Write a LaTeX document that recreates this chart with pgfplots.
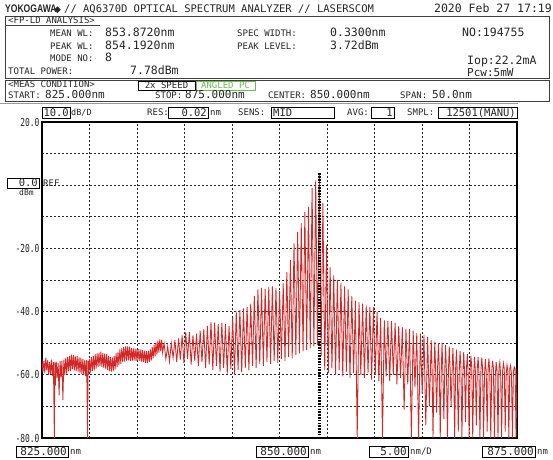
\documentclass[border=0pt]{standalone}
\usepackage{pgfplots}
\pgfplotsset{compat=1.18}
\usepackage{fontspec}
\setmainfont{DejaVu Sans Mono}
\newfontfamily\brand{Liberation Sans}
\newfontfamily\sym{DejaVu Sans}
\definecolor{trace}{RGB}{210,40,40}
\definecolor{apc}{RGB}{110,185,80}
\newcommand{\fs}[1]{\fontsize{#1bp}{#1bp}\selectfont}

\begin{document}
\begin{tikzpicture}
\useasboundingbox (0,0) rectangle (553bp,460bp);
\begin{axis}[
    at={(42bp,22bp)}, anchor=south west,
    scale only axis, width=475bp, height=316bp,
    xmin=825, xmax=875, ymin=-80, ymax=20,
    xtick={825,830,...,875}, ytick={-80,-70,...,20},
    xticklabels={},
    yticklabels={-80.0,,-60.0,,-40.0,,-20.0,,,,20.0},
    yticklabel style={font=\fs{11}, xscale=0.72, text=black!85},
    major tick length=0pt,
    grid=major,
    major grid style={black!85, line width=0.7bp, dash pattern=on 2bp off 2bp},
    axis line style={black, line width=1.3bp},
]
% measured trace (dBm vs nm)
\addplot[trace, line width=0.85bp] coordinates {
(825.0,-55.0) (825.1,-59.2) (825.2,-55.6) (825.3,-59.5) (825.4,-54.6) (825.5,-58.6)
(825.6,-55.4) (825.7,-60.0) (825.8,-55.9) (825.9,-59.8) (826.0,-55.2) (826.1,-60.3)
(826.2,-56.0) (826.3,-80) (826.35,-56.1) (826.4,-63.5) (826.5,-55.8) (826.6,-61.0)
(826.7,-56.3) (826.8,-66.5) (826.9,-55.6) (827.0,-60.8) (827.1,-55.5) (827.2,-68.0)
(827.3,-55.2) (827.4,-60.2) (827.5,-54.6) (827.6,-59.6) (827.7,-54.3) (827.8,-58.9)
(827.9,-54.0) (828.0,-58.8) (828.1,-53.6) (828.2,-58.3) (828.3,-53.7) (828.4,-58.6)
(828.5,-54.0) (828.6,-58.8) (828.7,-54.1) (828.8,-59.0) (828.9,-54.5) (829.0,-59.4)
(829.1,-54.6) (829.2,-59.8) (829.3,-55.0) (829.4,-60.1) (829.5,-55.3) (829.6,-60.4)
(829.7,-55.4) (829.8,-80) (829.85,-55.6) (829.9,-60.0) (830.0,-55.0) (830.1,-59.3)
(830.2,-54.4) (830.3,-58.8) (830.4,-54.0) (830.5,-58.6) (830.6,-53.5) (830.7,-58.0)
(830.8,-53.2) (830.9,-57.6) (831.0,-53.0) (831.1,-57.3) (831.2,-52.7) (831.3,-57.5)
(831.4,-53.1) (831.5,-57.8) (831.6,-53.3) (831.7,-58.0) (831.8,-53.4) (831.9,-58.4)
(832.0,-54.0) (832.1,-58.9) (832.2,-54.3) (832.3,-59.0) (832.4,-54.5) (832.5,-58.8)
(832.6,-54.0) (832.7,-58.3) (832.8,-53.2) (832.9,-57.6) (833.0,-52.8) (833.1,-57.0)
(833.2,-52.0) (833.3,-56.5) (833.4,-51.6) (833.5,-56.0) (833.6,-51.2) (833.7,-55.8)
(833.8,-51.0) (833.9,-55.5) (834.0,-51.0) (834.1,-55.4) (834.2,-51.1) (834.3,-55.6)
(834.4,-51.5) (834.5,-55.7) (834.6,-51.6) (834.7,-55.5) (834.8,-51.7) (834.9,-55.6)
(835.0,-51.8) (835.1,-55.4) (835.2,-51.9) (835.3,-55.7) (835.4,-52.0) (835.5,-55.9)
(835.6,-52.2) (835.7,-56.0) (835.8,-52.4) (835.9,-56.2) (836.0,-52.5) (836.1,-56.3)
(836.2,-52.4) (836.3,-56.0) (836.4,-52.0) (836.5,-55.5) (836.6,-51.2) (836.7,-54.8)
(836.8,-50.5) (836.9,-54.2) (837.0,-49.8) (837.1,-53.6) (837.2,-49.2) (837.3,-53.0)
(837.4,-48.8) (837.5,-52.6) (837.6,-48.9) (837.7,-53.0)
(837.85,-50.0) (838.04,-55.0) (838.23,-51.0) (838.42,-55.8) (838.61,-50.0) (838.80,-54.6)
(838.99,-49.0) (839.18,-56.0) (839.37,-48.5) (839.56,-55.2) (839.75,-47.5) (839.94,-56.4)
(840.13,-46.5) (840.32,-55.0) (840.51,-46.5) (840.70,-56.8) (840.89,-47.5) (841.08,-55.6)
(841.27,-47.0) (841.46,-57.2) (841.65,-46.0) (841.84,-56.0) (842.03,-45.5) (842.22,-57.8)
(842.41,-44.5) (842.60,-56.8) (842.79,-43.3) (842.98,-58.4) (843.17,-43.5) (843.36,-57.2)
(843.55,-44.0) (843.74,-59.0) (843.93,-43.5) (844.12,-57.8) (844.31,-44.0) (844.50,-59.6)
(844.69,-44.5) (844.88,-58.2) (845.07,-42.0) (845.26,-60.0) (845.45,-40.0) (845.64,-58.4)
(845.83,-39.5) (846.02,-59.2) (846.21,-39.0) (846.40,-57.8) (846.59,-38.5) (846.78,-58.6)
(846.97,-37.5) (847.16,-57.2) (847.35,-35.0) (847.54,-57.8) (847.73,-33.0) (847.92,-56.6)
(848.11,-32.5) (848.30,-57.2) (848.49,-32.8) (848.68,-56.0) (848.87,-32.2) (849.06,-56.6)
(849.25,-32.0) (849.44,-55.6) (849.63,-32.5) (849.82,-56.2) (850.01,-33.5) (850.20,-55.0)
(850.39,-31.0) (850.58,-55.6) (850.77,-27.5) (850.96,-54.4) (851.15,-23.6) (851.34,-54.8)
(851.53,-18.3) (851.72,-53.8) (851.91,-14.8) (852.10,-53.2) (852.29,-12.0) (852.48,-52.6)
(852.67,-8.5) (852.86,-52.2) (853.05,-6.9) (853.24,-51.6) (853.43,-0.9) (853.62,-51.0)
(853.81,1.5) (854.00,-50.6) (854.19,3.72) (854.38,-54.0)
(854.57,-5.6) (854.76,-58.5) (854.95,-19.0) (855.14,-59.5) (855.33,-26.0) (855.52,-58.0)
(855.71,-28.5) (855.90,-60.0) (856.09,-30.0) (856.28,-58.5) (856.47,-31.0) (856.66,-60.5)
(856.85,-32.0) (857.04,-59.0) (857.23,-33.0) (857.42,-61.0) (857.61,-35.0) (857.80,-59.5)
(857.99,-36.5) (858.18,-80) (858.37,-37.0) (858.56,-60.0) (858.75,-37.5) (858.94,-61.0)
(859.13,-38.0) (859.32,-59.5) (859.51,-38.5) (859.70,-61.5) (859.89,-38.5) (860.08,-60.0)
(860.27,-40.0) (860.46,-62.0) (860.65,-42.0) (860.84,-80) (861.03,-42.7) (861.22,-60.5)
(861.41,-43.0) (861.60,-62.0) (861.79,-43.0) (861.98,-60.0) (862.17,-43.5) (862.36,-63.0)
(862.55,-44.5) (862.74,-61.0) (862.93,-45.0) (863.12,-71.0) (863.31,-45.5) (863.50,-63.0)
(863.69,-45.5) (863.88,-80) (864.07,-46.0) (864.26,-64.0) (864.45,-46.8) (864.64,-80)
(864.83,-47.0) (865.02,-66.0) (865.21,-47.4) (865.40,-76.0) (865.59,-48.0) (865.78,-70.0)
(865.97,-49.0) (866.06,-58) (866.16,-80) (866.26,-59)
(866.35,-49.6) (866.44,-59) (866.54,-72) (866.64,-58)
(866.73,-50.0) (866.82,-58) (866.92,-80) (867.02,-60)
(867.11,-50.0) (867.20,-59) (867.30,-74) (867.40,-58)
(867.49,-50.6) (867.58,-60) (867.68,-80) (867.78,-59)
(867.87,-51.0) (867.96,-58) (868.06,-70) (868.16,-60)
(868.25,-51.5) (868.34,-59) (868.44,-80) (868.54,-58)
(868.63,-52.0) (868.72,-60) (868.82,-78) (868.92,-59)
(869.01,-52.5) (869.10,-58) (869.20,-80) (869.30,-60)
(869.39,-52.8) (869.48,-59) (869.58,-75) (869.68,-58)
(869.77,-53.5) (869.86,-60) (869.96,-80) (870.06,-59)
(870.15,-54.0) (870.24,-58) (870.34,-80) (870.44,-60)
(870.53,-54.3) (870.62,-59) (870.72,-76) (870.82,-58)
(870.91,-54.4) (871.00,-60) (871.10,-80) (871.20,-59)
(871.29,-54.5) (871.38,-58) (871.48,-80) (871.58,-60)
(871.67,-55.0) (871.76,-59) (871.86,-78) (871.96,-58)
(872.05,-54.8) (872.14,-60) (872.24,-80) (872.34,-59)
(872.43,-55.5) (872.52,-58) (872.62,-80) (872.72,-60)
(872.81,-56.0) (872.90,-59) (873.00,-80) (873.10,-58)
(873.19,-56.0) (873.28,-60) (873.38,-80) (873.48,-59)
(873.57,-56.3) (873.66,-58) (873.76,-78) (873.86,-60)
(873.95,-56.8) (874.04,-59) (874.14,-80) (874.24,-58)
(874.33,-57.0) (874.42,-60) (874.52,-80) (874.62,-59)
(874.71,-57.5) (874.80,-58) (874.90,-80) (875.00,-58)
};
% peak marker
\addplot[black, line width=2.4bp, dash pattern=on 1.6bp off 1.2bp] coordinates {(854.192,3.72) (854.192,-80)};
\end{axis}

\begin{scope}[x=1bp, y=-1bp, yshift=460bp, every node/.style={inner sep=0pt, text=black!85}]
% title row
\node[anchor=base west, font=\brand\bfseries\fs{11}, xscale=0.78] at (5,13) {YOKOGAWA};
\node[anchor=base west, font=\sym\fs{9}] at (54,13) {◆};
\node[anchor=base west, font=\fs{10.5}] at (64,13) {// AQ6370D OPTICAL SPECTRUM ANALYZER // LASERSCOM};
\node[anchor=base east, font=\fs{11.5}] at (552,13) {2020 Feb 27 17:19};
% analysis box
\draw[black!75, line width=0.9bp] (5,16) rectangle (549,78);
\node[anchor=base west, font=\fs{9}] at (8,24) {<FP-LD ANALYSIS>};
\draw[black!75, line width=0.7bp] (5,25.5) -- (100,25.5);
\node[anchor=base west, font=\fs{9}] at (50,37) {MEAN WL:};
\node[anchor=base west, font=\fs{11.5}] at (105,37) {853.8720nm};
\node[anchor=base west, font=\fs{9}] at (237,37) {SPEC WIDTH:};
\node[anchor=base west, font=\fs{11.5}] at (330,37) {0.3300nm};
\node[anchor=base west, font=\fs{11.5}] at (462,37) {NO:194755};
\node[anchor=base west, font=\fs{9}] at (50,50) {PEAK WL:};
\node[anchor=base west, font=\fs{11.5}] at (105,50) {854.1920nm};
\node[anchor=base west, font=\fs{9}] at (237,50) {PEAK LEVEL:};
\node[anchor=base west, font=\fs{11.5}] at (330,50) {3.72dBm};
\node[anchor=base west, font=\fs{9}] at (50,62) {MODE NO:};
\node[anchor=base west, font=\fs{11.5}] at (105,62) {8};
\node[anchor=base west, font=\fs{11.5}] at (467,65) {Iop:22.2mA};
\node[anchor=base west, font=\fs{9}] at (8,75) {TOTAL POWER:};
\node[anchor=base west, font=\fs{11.5}] at (130,75) {7.78dBm};
\node[anchor=base west, font=\fs{11}] at (467,77) {Pcw:5mW};
% measurement condition box
\draw[black!75, line width=0.9bp] (5,80) rectangle (549,101);
\node[anchor=base west, font=\fs{9}] at (8,88) {<MEAS CONDITION>};
\draw[black, line width=0.8bp] (138,81) rectangle (195,90);
\node[font=\fs{9}] at (166.5,85.5) {2x SPEED};
\draw[apc, line width=0.8bp] (196,81) rectangle (255,90);
\node[font=\fs{9}, text=apc] at (225.5,85.5) {ANGLED PC};
\node[anchor=base west, font=\fs{9}] at (8,99) {START:};
\node[anchor=base west, font=\fs{11}] at (45,99) {825.000nm};
\node[anchor=base west, font=\fs{9}] at (155,99) {STOP:};
\node[anchor=base west, font=\fs{11}] at (185,99) {875.000nm};
\node[anchor=base west, font=\fs{9}] at (268,99) {CENTER:};
\node[anchor=base west, font=\fs{11}] at (310,99) {850.000nm};
\node[anchor=base west, font=\fs{9}] at (400,99) {SPAN:};
\node[anchor=base west, font=\fs{11}] at (432,99) {50.0nm};
\draw[black!40, line width=1bp] (0,103.5) -- (518,103.5);
% setting row
\draw[black, line width=0.8bp] (42,107) rectangle (70,118);
\node[anchor=base east, font=\fs{10.5}] at (69,116.5) {10.0};
\node[anchor=base west, font=\fs{8.5}] at (71,116) {dB/D};
\node[anchor=base west, font=\fs{9}] at (147,116) {RES:};
\draw[black, line width=0.8bp] (168,107) rectangle (208,118);
\node[anchor=base east, font=\fs{10.5}] at (207,116.5) {0.02};
\node[anchor=base west, font=\fs{9}] at (210,116) {nm};
\node[anchor=base west, font=\fs{9}] at (238,116) {SENS:};
\draw[black, line width=0.8bp] (271,107) rectangle (334,118);
\node[anchor=base west, font=\fs{10.5}] at (273,116.5) {MID};
\node[anchor=base west, font=\fs{9}] at (347,116) {AVG:};
\draw[black, line width=0.8bp] (371,107) rectangle (394,118);
\node[anchor=base east, font=\fs{10.5}] at (393,116.5) {1};
\node[anchor=base west, font=\fs{9}] at (407,116) {SMPL:};
\draw[black, line width=0.8bp] (438,107) rectangle (517,118);
\node[anchor=base east, font=\fs{10.5}] at (516,116.5) {12501(MANU)};
% reference level
\draw[black, line width=0.8bp] (7,178) rectangle (39,188);
\node[anchor=base east, font=\fs{10.5}] at (38,187) {0.0};
\node[anchor=base west, font=\fs{9}] at (43,187) {REF};
\node[anchor=base west, font=\fs{8}] at (19,196) {dBm};
% wavelength scale
\draw[black, line width=0.8bp] (16,446) rectangle (68,457);
\node[anchor=base east, font=\fs{11}] at (67,455.5) {825.000};
\node[anchor=base west, font=\fs{9}] at (70,455) {nm};
\draw[black, line width=0.8bp] (256,446) rectangle (308,457);
\node[anchor=base east, font=\fs{11}] at (307,455.5) {850.000};
\node[anchor=base west, font=\fs{9}] at (310,455) {nm};
\draw[black, line width=0.8bp] (369,446) rectangle (408,457);
\node[anchor=base east, font=\fs{11}] at (407,455.5) {5.00};
\node[anchor=base west, font=\fs{9}] at (410,455) {nm/D};
\draw[black, line width=0.8bp] (482,446) rectangle (535,457);
\node[anchor=base east, font=\fs{11}] at (534,455.5) {875.000};
\node[anchor=base west, font=\fs{9}] at (537,455) {nm};
\end{scope}
\end{tikzpicture}
\end{document}
